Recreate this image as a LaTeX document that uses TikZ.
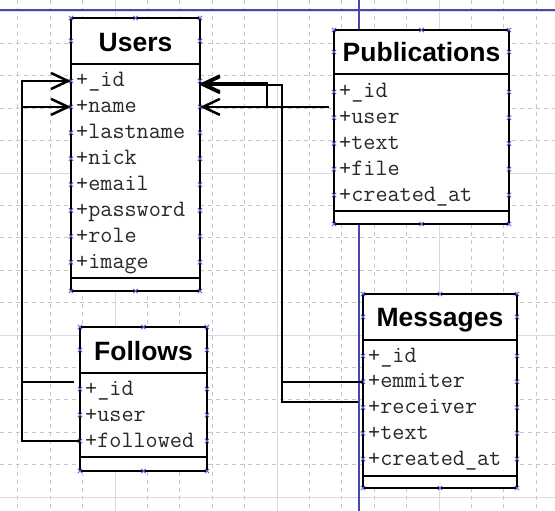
\documentclass[tikz,border=0pt]{standalone}
\usepackage{fontspec}
\usetikzlibrary{arrows.meta}
\newfontfamily\ttlfont{Liberation Sans}
\definecolor{gridminor}{RGB}{200,200,200}
\definecolor{gridmajor}{RGB}{212,220,228}
\definecolor{pageblue}{RGB}{72,72,170}
\definecolor{handle}{RGB}{95,95,215}
\definecolor{txt}{RGB}{40,40,40}
\tikzset{
  box/.style={draw=black, line width=2.6pt, fill=white},
  sep/.style={draw=black, line width=2.6pt},
  title/.style={font=\ttlfont\bfseries\fontsize{26.5}{30}\selectfont, anchor=base, inner sep=0pt},
  attr/.style={font=\ttfamily\fontsize{23.5}{26}\selectfont, text=txt, anchor=base west, inner sep=0pt},
  conn/.style={draw=black, line width=2.5pt},
  tip/.style={-{Straight Barb[length=17pt, width=16pt]}},
  handlemk/.style={draw=handle, line width=0.8pt},
}
\newcommand\hmark[2]{\draw[handlemk] ({#1},{#2}) +(-2.2,-2.2) -- +(2.2,2.2) +(-2.2,2.2) -- +(2.2,-2.2);}
% #1 name #2 L #3 R #4 T #5 HB #6 AB #7 B #8 title baseline #9 title
\newcommand\erbox[9]{%
  \draw[box] (#2,#4) rectangle (#3,#7);
  \draw[sep] (#2,#5) -- (#3,#5);
  \draw[sep] (#2,#6) -- (#3,#6);
  \node[title] (#1) at ({(#2+#3)/2},#8) {#9};
  \hmark{#2}{#4}\hmark{#3}{#4}\hmark{#2}{#7}\hmark{#3}{#7}
  \hmark{(#2+#3)/2}{#4}\hmark{(#2+#3)/2}{#7}
  \hmark{#2}{(#4+#5)/2}\hmark{#3}{(#4+#5)/2}
}
% #1 name #2 L #3 R #4 first centre #5 pitch #6 list
\newcommand\errows[6]{%
  \foreach \t [count=\i] in {#6} {
    \pgfmathsetmacro\cy{#4+(\i-1)*#5}
    \node[attr] (#1-\i) at ({#2+5},{\cy+6}) {\t};
    \coordinate (#1-\i-w) at (#2,\cy);
    \coordinate (#1-\i-e) at (#3,\cy);
    \hmark{#2}{\cy}\hmark{#3}{\cy}
  }
}
\begin{document}
\begin{tikzpicture}[x=1pt,y=-1pt]
\useasboundingbox (0,0) rectangle (555,511);
\fill[white] (0,0) rectangle (555,511);
% grid
\foreach \i in {0,...,16} {
  \pgfmathsetmacro\gx{17.8+32.4*\i}
  \pgfmathtruncatemacro\m{mod(\i,5)}
  \ifnum\m=3
    \draw[gridmajor, line width=0.9pt] (\gx,0) -- (\gx,511);
  \else
    \draw[gridminor, line width=0.8pt, dash pattern=on 4pt off 4pt] (\gx,0) -- (\gx,511);
  \fi
}
\foreach \j in {0,...,15} {
  \pgfmathsetmacro\gy{11+32.4*\j}
  \pgfmathtruncatemacro\m{mod(\j,5)}
  \ifnum\m=0
    \draw[gridmajor, line width=0.9pt] (0,\gy) -- (555,\gy);
  \else
    \draw[gridminor, line width=0.8pt, dash pattern=on 4pt off 4pt] (0,\gy) -- (555,\gy);
  \fi
}
% page borders
\draw[pageblue, line width=1.4pt] (0,10) -- (555,10);
\draw[pageblue, line width=1.4pt] (359,0) -- (359,511);

% connector end points
\coordinate (fA) at (74,382);
\coordinate (pB) at (329,106.9);
\coordinate (mR) at (358,402);
\coordinate (lx1) at (22,81);
\coordinate (lx2) at (22,106.9);
\coordinate (uid1) at (200,85);
\coordinate (uid2) at (200,83.5);

% tables
\erbox{users}{71}{200}{18}{64}{278}{291}{52}{Users}
\errows{u}{71}{200}{81}{25.9}{+\_id,+name,+lastname,+nick,+email,+password,+role,+image}
\erbox{pubs}{334}{509}{30}{74}{211}{224}{62}{Publications}
\errows{p}{334}{509}{92}{25.75}{+\_id,+user,+text,+file,+created\_at}
\erbox{follows}{80}{207}{327}{373}{457}{471}{360}{Follows}
\errows{f}{80}{207}{389}{26}{+\_id,+user,+followed}
\erbox{msgs}{363}{517}{294}{340}{476}{488}{326}{Messages}
\errows{m}{363}{517}{356}{25.75}{+\_id,+emmiter,+receiver,+text,+created\_at}

\draw[conn, tip] (fA) -| (lx1) -- (u-1-w);
\draw[conn, tip] (f-3-w) -| (lx2) -- (u-2-w);
\draw[conn, tip] (pB) -- (u-2-e);
\draw[conn] (mR) -| (282,106.9);
\draw[conn, tip] (m-2-w) -| (282,85) -- (uid1);
\draw[conn, tip] (267,106.9) -- (267,83.5) -- (uid2);
\end{tikzpicture}
\end{document}
